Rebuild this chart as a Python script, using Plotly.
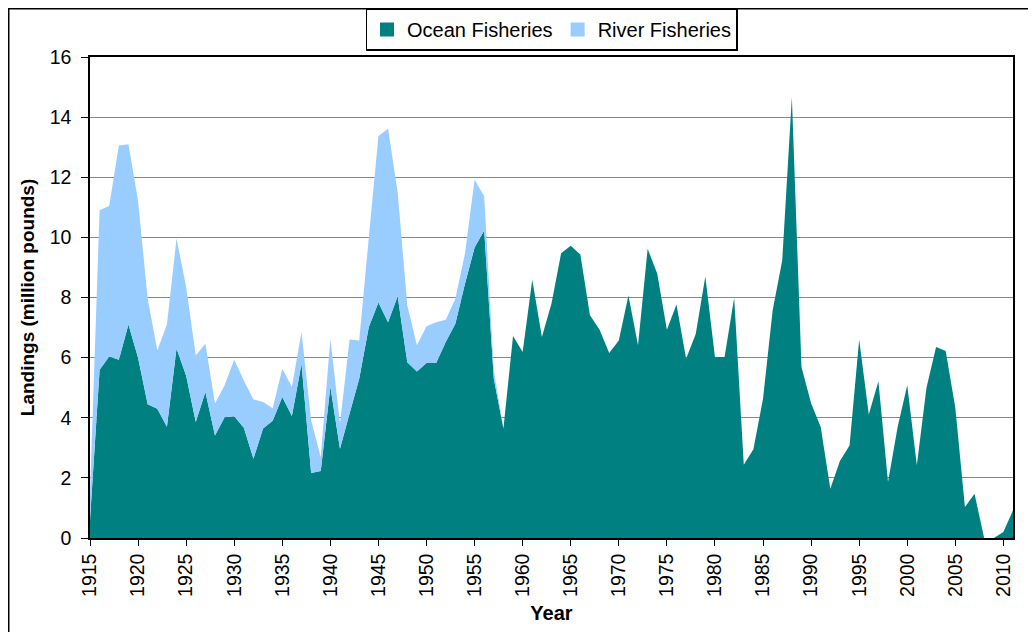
import plotly.graph_objects as go

years = list(range(1915, 2012))

ocean = [0.6, 5.6, 6.04, 5.93, 7.1, 6.0, 4.45, 4.3, 3.7, 6.3,
         5.4, 3.86, 4.86, 3.41, 4.02, 4.05, 3.67, 2.64, 3.64, 3.9,
         4.69, 4.06, 5.8, 2.16, 2.23, 5.03, 2.97, 4.14, 5.3, 7.02,
         7.83, 7.18, 8.04, 5.85, 5.54, 5.82, 5.82, 6.52, 7.13, 8.46,
         9.66, 10.23, 5.3, 3.64, 6.72, 6.19, 8.59, 6.69, 7.8, 9.47,
         9.72, 9.43, 7.41, 6.93, 6.15, 6.57, 8.07, 6.41, 9.62, 8.79,
         6.93, 7.77, 5.96, 6.79, 8.7, 6.02, 6.02, 7.99, 2.44, 2.95,
         4.63, 7.57, 9.24, 14.67, 5.69, 4.48, 3.69, 1.64, 2.56, 3.08,
         6.6, 4.11, 5.21, 1.86, 3.69, 5.08, 2.42, 5.0, 6.35, 6.22,
         4.33, 1.03, 1.47, 0.0, 0.0, 0.2, 0.92]

river_early = [0.9, 5.3, 5.0, 7.13, 6.0, 5.2, 3.51, 1.94, 3.4, 3.66,
               2.95, 2.21, 1.6, 1.06, 1.06, 1.88, 1.57, 1.97, 0.88, 0.42,
               0.94, 0.96, 1.05, 1.75, 0.46, 1.6, 0.83, 2.46, 1.27, 2.98,
               5.54, 6.43, 3.46, 1.89, 0.87, 1.22, 1.36, 0.74, 0.83, 1.0,
               2.26, 1.14, 0.28]
river = river_early + [0.0] * (len(years) - len(river_early))

tick_years = list(range(1915, 2011, 5))
y_ticks = [0, 2, 4, 6, 8, 10, 12, 14, 16]

OCEAN_C = "#008080"
RIVER_C = "#99CCFF"
FONT = "Liberation Sans, Arial, sans-serif"

fig = go.Figure()
fig.add_trace(go.Scatter(x=years, y=ocean, stackgroup="a", mode="none",
                         fillcolor=OCEAN_C, name="Ocean Fisheries",
                         showlegend=False))
fig.add_trace(go.Scatter(x=years, y=river, stackgroup="a", mode="none",
                         fillcolor=RIVER_C, name="River Fisheries",
                         showlegend=False))
# legend swatches
fig.add_trace(go.Scatter(x=[None], y=[None], mode="markers",
                         marker=dict(symbol="square", size=14, color=OCEAN_C),
                         name="Ocean Fisheries"))
fig.add_trace(go.Scatter(x=[None], y=[None], mode="markers",
                         marker=dict(symbol="square", size=14, color=RIVER_C),
                         name="River Fisheries"))

# page body has an 8px margin, so the figure is offset by 8px
OFF = 8
W, H = 1036 - OFF, 632 - OFF
L, T = 90 - OFF, 57 - OFF
R = W - (1013 - OFF)
B = H - (538 - OFF)
pw = W - L - R
ph = H - T - B

fig.update_layout(
    width=W, height=H,
    margin=dict(l=L, r=R, t=T, b=B, autoexpand=False),
    paper_bgcolor="white", plot_bgcolor="white",
    font=dict(family=FONT, size=19.5, color="black"),
    showlegend=True,
    legend=dict(orientation="h", x=0.5, xanchor="center",
                y=(ph + T - 0.5) / ph, yanchor="top",
                bordercolor="black", borderwidth=1.5,
                font=dict(size=20), itemwidth=30,
                traceorder="normal", tracegroupgap=0),
    xaxis=dict(range=[1915, 2011], tickvals=tick_years,
               ticktext=[str(t) for t in tick_years], tickangle=-90,
               showgrid=False, zeroline=False, automargin=False,
               showline=True, linecolor="black", linewidth=1.5, mirror=True,
               ticks="outside", ticklen=6, tickcolor="black",
               title=dict(text="<b>Year</b>", font=dict(size=20), standoff=10)),
    yaxis=dict(range=[0, 16], tickvals=y_ticks,
               showgrid=True, gridcolor="#888888", gridwidth=1,
               zeroline=False, automargin=False,
               showline=True, linecolor="black", linewidth=1.5, mirror=True,
               ticks="outside", ticklen=7, tickcolor="black",
               ticklabelstandoff=6,
               title=dict(text="<b>Landings (million pounds)</b>",
                          font=dict(size=19), standoff=10)),
)

# outer chart border (top and left edges)
fig.add_shape(type="rect", xref="paper", yref="paper",
              x0=(0.75 - L) / pw, x1=(W + 10 - L) / pw,
              y0=(T + ph - (H + 10)) / ph, y1=(T + ph - 0.75) / ph,
              line=dict(color="black", width=1.5), fillcolor="rgba(0,0,0,0)",
              layer="above")

fig.write_html("out.html")
